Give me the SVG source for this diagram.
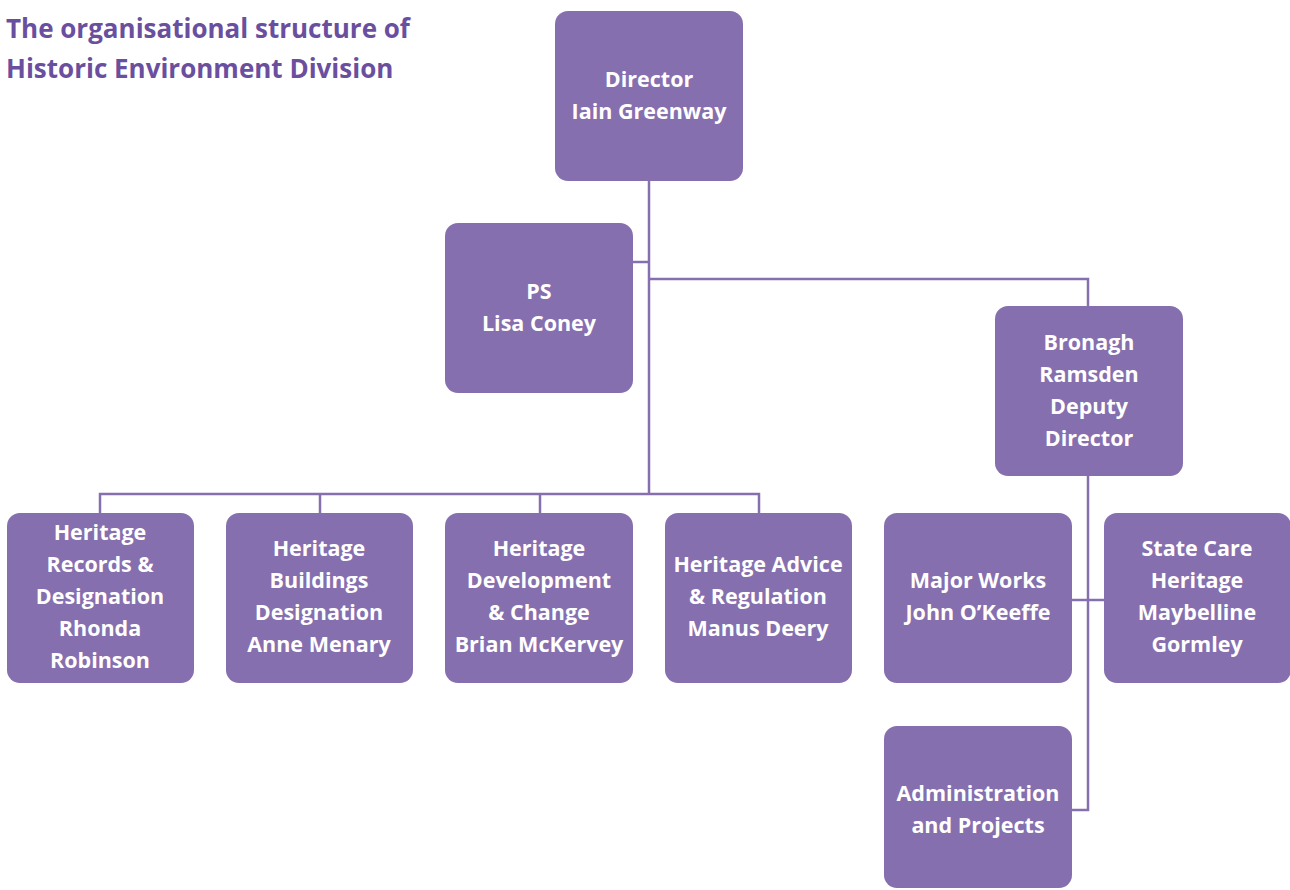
<svg xmlns="http://www.w3.org/2000/svg" width="1290" height="890" viewBox="0 0 1290 890">
<style>
.box{fill:#866fae}
.t{font-family:"Open Sans","Noto Sans",sans-serif;font-weight:700;font-size:21.5px;fill:#ffffff;text-anchor:middle}
.title{font-family:"Open Sans","Noto Sans",sans-serif;font-weight:700;font-size:26px;fill:#6b4f9f}
.c{fill:none;stroke:#866fae;stroke-width:2.5}
</style>
<rect width="1290" height="890" fill="#ffffff"/>
<g id="title">
<text class="title" x="6" y="38">The organisational structure of</text>
<text class="title" x="6" y="78">Historic Environment Division</text>
</g>
<g id="connectors">
<path class="c" d="M649 181V494"/>
<path class="c" d="M633 262H649"/>
<path class="c" d="M649 279H1088V306"/>
<path class="c" d="M100 513V494H759V513"/>
<path class="c" d="M320 494V513"/>
<path class="c" d="M540 494V513"/>
<path class="c" d="M1088 476V810H1072"/>
<path class="c" d="M1072 600H1104"/>
</g>
<g id="director">
<rect class="box" x="555" y="11" width="188" height="170" rx="13"/>
<text class="t" x="649" y="87">Director</text>
<text class="t" x="649" y="119">Iain Greenway</text>
</g>
<g id="ps">
<rect class="box" x="445" y="223" width="188" height="170" rx="13"/>
<text class="t" x="539" y="299">PS</text>
<text class="t" x="539" y="331">Lisa Coney</text>
</g>
<g id="deputy">
<rect class="box" x="995" y="306" width="188" height="170" rx="13"/>
<text class="t" x="1089" y="350">Bronagh</text>
<text class="t" x="1089" y="382">Ramsden</text>
<text class="t" x="1089" y="414">Deputy</text>
<text class="t" x="1089" y="446">Director</text>
</g>
<g id="records">
<rect class="box" x="7" y="513" width="187" height="170" rx="13"/>
<text class="t" x="100" y="540">Heritage</text>
<text class="t" x="100" y="572">Records &amp;</text>
<text class="t" x="100" y="604">Designation</text>
<text class="t" x="100" y="636">Rhonda</text>
<text class="t" x="100" y="668">Robinson</text>
</g>
<g id="buildings">
<rect class="box" x="226" y="513" width="187" height="170" rx="13"/>
<text class="t" x="319" y="556">Heritage</text>
<text class="t" x="319" y="588">Buildings</text>
<text class="t" x="319" y="620">Designation</text>
<text class="t" x="319" y="652">Anne Menary</text>
</g>
<g id="development">
<rect class="box" x="445" y="513" width="188" height="170" rx="13"/>
<text class="t" x="539" y="556">Heritage</text>
<text class="t" x="539" y="588">Development</text>
<text class="t" x="539" y="620">&amp; Change</text>
<text class="t" x="539" y="652">Brian McKervey</text>
</g>
<g id="advice">
<rect class="box" x="665" y="513" width="187" height="170" rx="13"/>
<text class="t" x="758" y="572">Heritage Advice</text>
<text class="t" x="758" y="604">&amp; Regulation</text>
<text class="t" x="758" y="636">Manus Deery</text>
</g>
<g id="majorworks">
<rect class="box" x="884" y="513" width="188" height="170" rx="13"/>
<text class="t" x="978" y="588">Major Works</text>
<text class="t" x="978" y="620">John O’Keeffe</text>
</g>
<g id="statecare">
<rect class="box" x="1104" y="513" width="187" height="170" rx="13"/>
<text class="t" x="1197" y="556">State Care</text>
<text class="t" x="1197" y="588">Heritage</text>
<text class="t" x="1197" y="620">Maybelline</text>
<text class="t" x="1197" y="652">Gormley</text>
</g>
<g id="admin">
<rect class="box" x="884" y="726" width="188" height="162" rx="13"/>
<text class="t" x="978" y="801">Administration</text>
<text class="t" x="978" y="833">and Projects</text>
</g>
</svg>
